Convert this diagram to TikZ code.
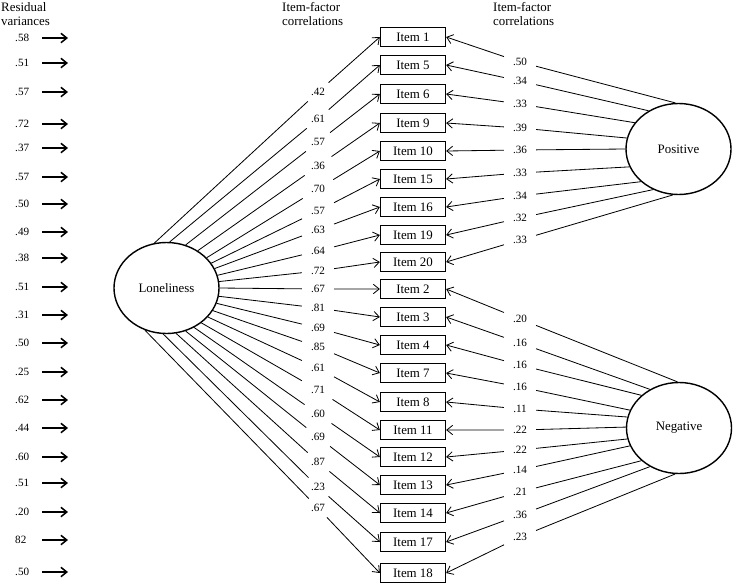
\documentclass[tikz,border=0pt]{standalone}
\usepackage{fontspec}
\setmainfont{Liberation Serif}
\usetikzlibrary{shapes.geometric,arrows.meta}

\begin{document}
\begin{tikzpicture}[x=0.03cm,y=-0.03cm,
  item/.style={draw,line width=1.1pt,minimum width=1.95cm,minimum height=0.57cm,inner sep=0pt,font=\fontsize{11}{12}\selectfont},
  factor/.style={ellipse,draw,line width=1.2pt,minimum width=3.15cm,minimum height=2.73cm,inner sep=0pt,font=\fontsize{11}{12}\selectfont},
  load/.style={minimum width=0.95cm,minimum height=0.55cm,inner sep=0pt,font=\fontsize{9.5}{10}\selectfont},
  resid/.style={anchor=west,inner sep=0pt,font=\fontsize{9.5}{10}\selectfont},
  conn/.style={line width=0.7pt,-{Straight Barb[length=5pt,width=8pt]}},
  resarrow/.style={line width=1.3pt,-{Straight Barb[length=5pt,width=8pt]}},
  head/.style={anchor=north west,align=left,inner sep=0pt,font=\fontsize{11}{12.5}\selectfont}]
\useasboundingbox (0,0) rectangle (733,584);

% headings
\node[head] (hres) at (1,2) {Residual\\variances};
\node[head] (hleft) at (282,2) {Item-factor\\correlations};
\node[head] (hright) at (493,2) {Item-factor\\correlations};

% factors
\node[factor] (lonely) at (166.5,288) {Loneliness};
\node[factor] (positive) at (678.5,149) {Positive};
\node[factor] (negative) at (679,428) {Negative};

% items
\node[item] (i1) at (413,37) {Item 1};
\node[item] (i5) at (413,65) {Item 5};
\node[item] (i6) at (413,94) {Item 6};
\node[item] (i9) at (413,123) {Item 9};
\node[item] (i10) at (413,151) {Item 10};
\node[item] (i15) at (413,179) {Item 15};
\node[item] (i16) at (413,207) {Item 16};
\node[item] (i19) at (413,235) {Item 19};
\node[item] (i20) at (413,262) {Item 20};
\node[item] (i2) at (413,289) {Item 2};
\node[item] (i3) at (413,317) {Item 3};
\node[item] (i4) at (413,345) {Item 4};
\node[item] (i7) at (413,373) {Item 7};
\node[item] (i8) at (413,402) {Item 8};
\node[item] (i11) at (413,430) {Item 11};
\node[item] (i12) at (413,457) {Item 12};
\node[item] (i13) at (413,485) {Item 13};
\node[item] (i14) at (413,513) {Item 14};
\node[item] (i17) at (413,542) {Item 17};
\node[item] (i18) at (413,573) {Item 18};

% residual variances
\node[resid] (r1) at (15,38) {.58};
\node[resid] (r2) at (15,63) {.51};
\node[resid] (r3) at (15,92) {.57};
\node[resid] (r4) at (15,124) {.72};
\node[resid] (r5) at (15,148) {.37};
\node[resid] (r6) at (15,177) {.57};
\node[resid] (r7) at (15,204) {.50};
\node[resid] (r8) at (15,232) {.49};
\node[resid] (r9) at (15,258) {.38};
\node[resid] (r10) at (15,287) {.51};
\node[resid] (r11) at (15,315) {.31};
\node[resid] (r12) at (15,343) {.50};
\node[resid] (r13) at (15,372) {.25};
\node[resid] (r14) at (15,400) {.62};
\node[resid] (r15) at (15,428) {.44};
\node[resid] (r16) at (15,457) {.60};
\node[resid] (r17) at (15,483) {.51};
\node[resid] (r18) at (15,512) {.20};
\node[resid] (r19) at (15,540) {82};
\node[resid] (r20) at (15,572) {.50};
\draw[resarrow] (42,0 |- r1) -- ++(26,0);
\draw[resarrow] (42,0 |- r2) -- ++(26,0);
\draw[resarrow] (42,0 |- r3) -- ++(26,0);
\draw[resarrow] (42,0 |- r4) -- ++(26,0);
\draw[resarrow] (42,0 |- r5) -- ++(26,0);
\draw[resarrow] (42,0 |- r6) -- ++(26,0);
\draw[resarrow] (42,0 |- r7) -- ++(26,0);
\draw[resarrow] (42,0 |- r8) -- ++(26,0);
\draw[resarrow] (42,0 |- r9) -- ++(26,0);
\draw[resarrow] (42,0 |- r10) -- ++(26,0);
\draw[resarrow] (42,0 |- r11) -- ++(26,0);
\draw[resarrow] (42,0 |- r12) -- ++(26,0);
\draw[resarrow] (42,0 |- r13) -- ++(26,0);
\draw[resarrow] (42,0 |- r14) -- ++(26,0);
\draw[resarrow] (42,0 |- r15) -- ++(26,0);
\draw[resarrow] (42,0 |- r16) -- ++(26,0);
\draw[resarrow] (42,0 |- r17) -- ++(26,0);
\draw[resarrow] (42,0 |- r18) -- ++(26,0);
\draw[resarrow] (42,0 |- r19) -- ++(26,0);
\draw[resarrow] (42,0 |- r20) -- ++(26,0);

% loadings on Loneliness
\node[load] (a1) at (318,92) {.42};
\node[load] (a5) at (318,119) {.61};
\node[load] (a6) at (318,142) {.57};
\node[load] (a9) at (318,166) {.36};
\node[load] (a10) at (318,189) {.70};
\node[load] (a15) at (318,211) {.57};
\node[load] (a16) at (318,230) {.63};
\node[load] (a19) at (318,251) {.64};
\node[load] (a20) at (318,271) {.72};
\node[load] (a2) at (318,289) {.67};
\node[load] (a3) at (318,308) {.81};
\node[load] (a4) at (318,328) {.69};
\node[load] (a7) at (318,347) {.85};
\node[load] (a8) at (318,368) {.61};
\node[load] (a11) at (318,390) {.71};
\node[load] (a12) at (318,414) {.60};
\node[load] (a13) at (318,437) {.69};
\node[load] (a14) at (318,462) {.87};
\node[load] (a17) at (318,487) {.23};
\node[load] (a18) at (318,508) {.67};
\draw[conn] (lonely.105) -- (a1) -- (i1.west);
\draw[conn] (lonely.86) -- (a5) -- (i5.west);
\draw[conn] (lonely.66) -- (a6) -- (i6.west);
\draw[conn] (lonely.50) -- (a9) -- (i9.west);
\draw[conn] (lonely.37) -- (a10) -- (i10.west);
\draw[conn] (lonely.29) -- (a15) -- (i15.west);
\draw[conn] (lonely.22) -- (a16) -- (i16.west);
\draw[conn] (lonely.14) -- (a19) -- (i19.west);
\draw[conn] (lonely.7) -- (a20) -- (i20.west);
\draw[conn] (lonely.0) -- (a2) -- (i2.west);
\draw[conn] (lonely.351) -- (a3) -- (i3.west);
\draw[conn] (lonely.343) -- (a4) -- (i4.west);
\draw[conn] (lonely.334) -- (a7) -- (i7.west);
\draw[conn] (lonely.325) -- (a8) -- (i8.west);
\draw[conn] (lonely.315) -- (a11) -- (i11.west);
\draw[conn] (lonely.305) -- (a12) -- (i12.west);
\draw[conn] (lonely.294) -- (a13) -- (i13.west);
\draw[conn] (lonely.282) -- (a14) -- (i14.west);
\draw[conn] (lonely.266) -- (a17) -- (i17.west);
\draw[conn] (lonely.243) -- (a18) -- (i18.west);

% loadings on Positive and Negative
\node[load] (b1) at (520,62) {.50};
\node[load] (b5) at (520,81) {.34};
\node[load] (b6) at (520,104) {.33};
\node[load] (b9) at (520,128) {.39};
\node[load] (b10) at (520,150) {.36};
\node[load] (b15) at (520,173) {.33};
\node[load] (b16) at (520,196) {.34};
\node[load] (b19) at (520,218) {.32};
\node[load] (b20) at (520,240) {.33};
\node[load] (b2) at (520,319) {.20};
\node[load] (b3) at (520,343) {.16};
\node[load] (b4) at (520,365) {.16};
\node[load] (b7) at (520,387) {.16};
\node[load] (b8) at (520,409) {.11};
\node[load] (b11) at (520,430) {.22};
\node[load] (b12) at (520,450) {.22};
\node[load] (b13) at (520,470) {.14};
\node[load] (b14) at (520,492) {.21};
\node[load] (b17) at (520,515) {.36};
\node[load] (b18) at (520,537) {.23};
\draw[conn] (positive.94) -- (b1) -- (i1.east);
\draw[conn] (positive.128) -- (b5) -- (i5.east);
\draw[conn] (positive.149) -- (b6) -- (i6.east);
\draw[conn] (positive.168) -- (b9) -- (i9.east);
\draw[conn] (positive.180) -- (b10) -- (i10.east);
\draw[conn] (positive.200) -- (b15) -- (i15.east);
\draw[conn] (positive.221) -- (b16) -- (i16.east);
\draw[conn] (positive.238) -- (b19) -- (i19.east);
\draw[conn] (positive.263) -- (b20) -- (i20.east);
\draw[conn] (negative.92) -- (b2) -- (i2.east);
\draw[conn] (negative.127) -- (b3) -- (i3.east);
\draw[conn] (negative.139) -- (b4) -- (i4.east);
\draw[conn] (negative.160) -- (b7) -- (i7.east);
\draw[conn] (negative.168) -- (b8) -- (i8.east);
\draw[conn] (negative.179) -- (b11) -- (i11.east);
\draw[conn] (negative.192) -- (b12) -- (i12.east);
\draw[conn] (negative.200) -- (b13) -- (i13.east);
\draw[conn] (negative.221) -- (b14) -- (i14.east);
\draw[conn] (negative.233) -- (b17) -- (i17.east);
\draw[conn] (negative.265) -- (b18) -- (i18.east);
\end{tikzpicture}
\end{document}
